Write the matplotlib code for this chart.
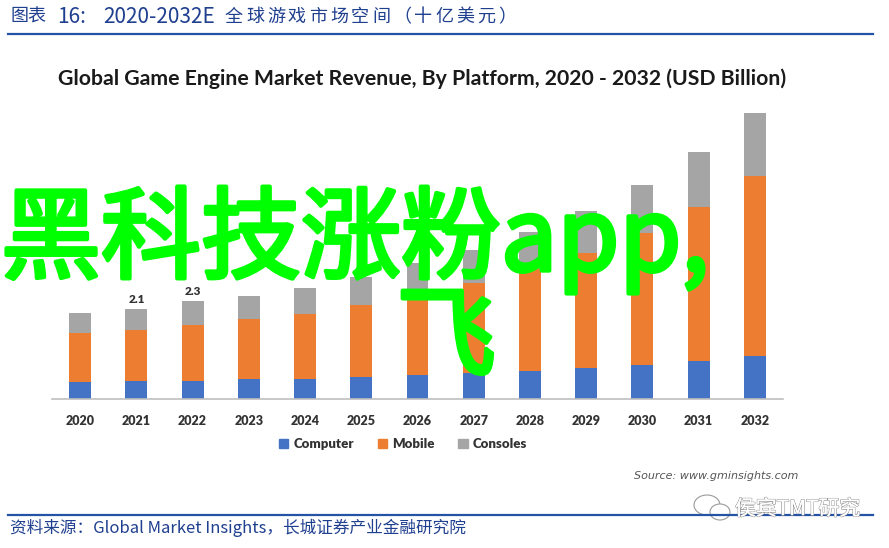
import matplotlib
matplotlib.use('Agg')
import matplotlib.pyplot as plt
from matplotlib.patches import Patch, Ellipse
import matplotlib.patheffects as pe

plt.rcParams['font.family'] = ['Noto Sans CJK SC', 'DejaVu Sans']

years = ['2020', '2021', '2022', '2023', '2024', '2025', '2026',
         '2027', '2028', '2029', '2030', '2031', '2032']
computer = [0.39, 0.41, 0.42, 0.45, 0.47, 0.51, 0.55, 0.59, 0.65, 0.72, 0.79, 0.88, 1.00]
mobile = [1.14, 1.21, 1.30, 1.41, 1.53, 1.68, 1.92, 2.12, 2.39, 2.70, 3.11, 3.63, 4.24]
consoles = [0.49, 0.48, 0.58, 0.56, 0.61, 0.68, 0.71, 0.79, 0.88, 1.00, 1.12, 1.28, 1.47]
labelled = {'2021': '2.1', '2022': '2.3'}

C_BLUE, C_ORANGE, C_GRAY = '#4472C4', '#ED7D31', '#A5A5A5'
NAVY = '#1F3F8F'

W, H = 889, 548
fig = plt.figure(figsize=(W / 100, H / 100), dpi=100)

def fx(px):
    return px / W

def fy(py):
    return 1 - py / H

# header of the report page, spaced out like the original
fig.text(fx(10), fy(17), '图表', color=NAVY, fontsize=13, va='center', ha='left')
fig.text(fx(57), fy(17), '16:', color=NAVY, fontsize=15, va='center', ha='left')
fig.text(fx(103), fy(17), '2020-2032E', color=NAVY, fontsize=15, va='center', ha='left')
for i, ch in enumerate('全球游戏市场空间（十亿美元）'):
    fig.text(fx(225 + 21 * i), fy(17), ch, color=NAVY, fontsize=13, va='center', ha='left')
fig.add_artist(plt.Line2D([fx(8), fx(873)], [fy(34), fy(34)], color='#2452A4', lw=1.6))
fig.add_artist(plt.Line2D([fx(8), fx(873)], [fy(515), fy(515)], color='#2452A4', lw=1.6))
fig.text(fx(10), fy(528), '资料来源：Global Market Insights，长城证券产业金融研究院',
         color=NAVY, fontsize=12, va='center', ha='left')

# chart
ax = fig.add_axes([fx(52), fy(398.5), fx(731), 297.5 / H])
x = list(range(len(years)))
bw = 0.39
ax.bar(x, computer, bw, color=C_BLUE)
ax.bar(x, mobile, bw, bottom=computer, color=C_ORANGE)
bottom3 = [a + b for a, b in zip(computer, mobile)]
ax.bar(x, consoles, bw, bottom=bottom3, color=C_GRAY)
for i, yr in enumerate(years):
    if yr in labelled:
        tot = computer[i] + mobile[i] + consoles[i]
        ax.text(i, tot + 0.22, labelled[yr], ha='center', va='center',
                fontsize=8.5, fontweight='heavy', color='#333333', family='Lato')

ax.set_xlim(-0.5, 12.5)
ax.set_ylim(0, 7.0)
ax.set_xticks(x)
ax.set_xticklabels(years, fontsize=9, fontweight='heavy', color='#333333', family='Lato')
ax.tick_params(axis='x', length=0, pad=12)
ax.set_yticks([])
for s in ['top', 'right', 'left']:
    ax.spines[s].set_visible(False)
ax.spines['bottom'].set_color('#BFBFBF')
ax.spines['bottom'].set_linewidth(1.2)

fig.text(fx(422), fy(79),
         'Global Game Engine Market Revenue, By Platform, 2020 - 2032 (USD Billion)',
         ha='center', va='center', fontsize=15.3, fontweight='bold', color='#1a1a1a',
         family='Lato')

handles = [Patch(color=C_BLUE), Patch(color=C_ORANGE), Patch(color=C_GRAY)]
fig.legend(handles, ['Computer', 'Mobile', 'Consoles'], loc='center',
           bbox_to_anchor=(fx(403), fy(444)), ncol=3, frameon=False,
           handlelength=0.7, handleheight=0.7, handletextpad=0.4, columnspacing=1.8,
           prop={'family': 'Lato', 'weight': 'heavy', 'size': 9.5}, labelcolor='#333333')

fig.text(fx(798), fy(476), 'Source: www.gminsights.com', ha='right', va='center',
         fontsize=8, style='italic', color='#555555', family='DejaVu Sans')

# watermark
wm = fig.text(fx(735), fy(509), '侯宾TMT研究', ha='left', va='center', fontsize=15,
              color='white')
wm.set_path_effects([pe.withStroke(linewidth=1.0, foreground='#9a9a9a'), pe.Normal()])
for cx, cy, ew, eh in [(707, 505, 26, 20), (720, 512, 20, 16)]:
    fig.add_artist(Ellipse((fx(cx), fy(cy)), fx(ew), eh / H, facecolor='white',
                           edgecolor='#9a9a9a', lw=0.8))

# green overlay text
thick = [pe.withStroke(linewidth=3, foreground='#00FF00')]
t1 = fig.text(fx(1), fy(240), '黑科技涨粉app,', ha='left', va='center', fontsize=72,
              color='#00FF00')
t2 = fig.text(fx(446), fy(340), '飞', ha='center', va='center', fontsize=72, color='#00FF00')
t1.set_path_effects(thick)
t2.set_path_effects(thick)

fig.savefig('out.png', dpi=100)
